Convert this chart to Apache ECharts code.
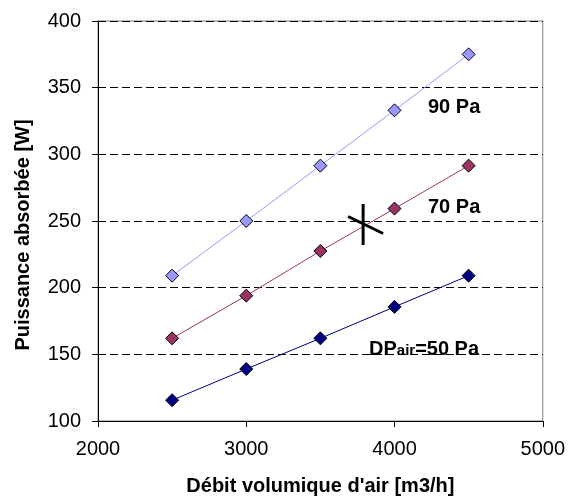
<!DOCTYPE html>
<html>
<head>
<meta charset="utf-8">
<script src="https://cdn.jsdelivr.net/npm/echarts@6/dist/echarts.min.js"></script>
<style>
html,body{margin:0;padding:0;background:#fff;}
#chart{width:568px;height:501px;}
</style>
</head>
<body>
<div id="chart"></div>
<script>
// Data
var xValues = [2500, 3000, 3500, 4000, 4500];
var p90 = [209, 250, 291.5, 333, 375];
var p70 = [162, 194, 227.5, 259.3, 291.5];
var p50 = [115.6, 139, 162, 185.6, 209];
var seriesNames = ['90 Pa', '70 Pa', 'DPair=50 Pa'];
var crossPoint = [3795, 247];
var xTitle = "Débit volumique d'air [m3/h]";
var yTitle = 'Puissance absorbée [W]';

var FONT = '"Liberation Sans", Arial, sans-serif';

function pairs(ys) { return xValues.map(function (x, i) { return [x, ys[i]]; }); }

function lineSeries(name, ys, color) {
  return {
    name: name,
    type: 'line',
    data: pairs(ys),
    symbol: 'diamond',
    symbolSize: 13,
    showSymbol: true,
    lineStyle: { color: color, width: 1 },
    itemStyle: { color: color, borderColor: '#000', borderWidth: 1 },
    emphasis: { disabled: true },
    animation: false,
    z: 3
  };
}

var chart = echarts.init(document.getElementById('chart'), null, { renderer: 'canvas' });
chart.setOption({
  backgroundColor: '#fff',
  animation: false,
  grid: { left: 98, right: 25, top: 21, bottom: 77.5, show: true, borderColor: '#808080', borderWidth: 1, backgroundColor: 'transparent' },
  xAxis: {
    type: 'value', min: 2000, max: 5000, interval: 1000,
    name: xTitle, nameLocation: 'middle', nameGap: 55,
    nameTextStyle: { fontFamily: FONT, fontSize: 20, fontWeight: 'bold', color: '#000' },
    axisLine: { show: true, onZero: false, lineStyle: { color: '#000', width: 1 } },
    axisTick: { show: true, inside: false, length: 6, lineStyle: { color: '#000' } },
    axisLabel: { margin: 18, fontFamily: FONT, fontSize: 20, color: '#000', formatter: function (v) { return String(v); } },
    splitLine: { show: false }
  },
  yAxis: {
    type: 'value', min: 100, max: 400, interval: 50,
    axisLine: { show: true, onZero: false, lineStyle: { color: '#000', width: 1 } },
    axisTick: { show: true, inside: false, length: 6, lineStyle: { color: '#000' } },
    axisLabel: { margin: 17, fontFamily: FONT, fontSize: 20, color: '#000', formatter: function (v) { return String(v); } },
    splitLine: { show: true, lineStyle: { color: '#000', width: 1, type: [8, 4] } }
  },
  series: [
    lineSeries(seriesNames[0], p90, '#9999FF'),
    lineSeries(seriesNames[1], p70, '#993366'),
    lineSeries(seriesNames[2], p50, '#000080'),
    {
      type: 'custom',
      data: [crossPoint],
      z: 5,
      silent: true,
      animation: false,
      renderItem: function (params, api) {
        var p = api.coord([api.value(0), api.value(1)]);
        return {
          type: 'group',
          children: [
            { type: 'line', shape: { x1: p[0] - 1, y1: p[1] - 21, x2: p[0] - 1, y2: p[1] + 20 }, style: { stroke: '#000', lineWidth: 3 } },
            { type: 'line', shape: { x1: p[0] - 16, y1: p[1] - 8.5, x2: p[0] + 19, y2: p[1] + 8.5 }, style: { stroke: '#000', lineWidth: 3 } }
          ]
        };
      }
    }
  ],
  graphic: [
    { type: 'text', x: 23, y: 235, rotation: Math.PI / 2, z: 10, style: { text: yTitle, font: 'bold 20px ' + FONT, fill: '#000', align: 'center', verticalAlign: 'middle' } },
    { type: 'text', x: 428, y: 107.5, z: 10, style: { text: '90 Pa', font: 'bold 20px ' + FONT, fill: '#000', verticalAlign: 'middle' } },
    { type: 'text', x: 428, y: 207, z: 10, style: { text: '70 Pa', font: 'bold 20px ' + FONT, fill: '#000', verticalAlign: 'middle' } },
    { type: 'text', x: 369, y: 349, z: 10, style: {
        text: '{b|DP}{s|air}{b|=50 Pa}', verticalAlign: 'middle',
        rich: {
          b: { fontFamily: FONT, fontSize: 20, fontWeight: 'bold', fill: '#000', verticalAlign: 'bottom' },
          s: { fontFamily: FONT, fontSize: 15, fontWeight: 'bold', fill: '#000', verticalAlign: 'bottom', padding: [0, 0, 1, 0] }
        }
    } }
  ]
});
</script>
</body>
</html>
